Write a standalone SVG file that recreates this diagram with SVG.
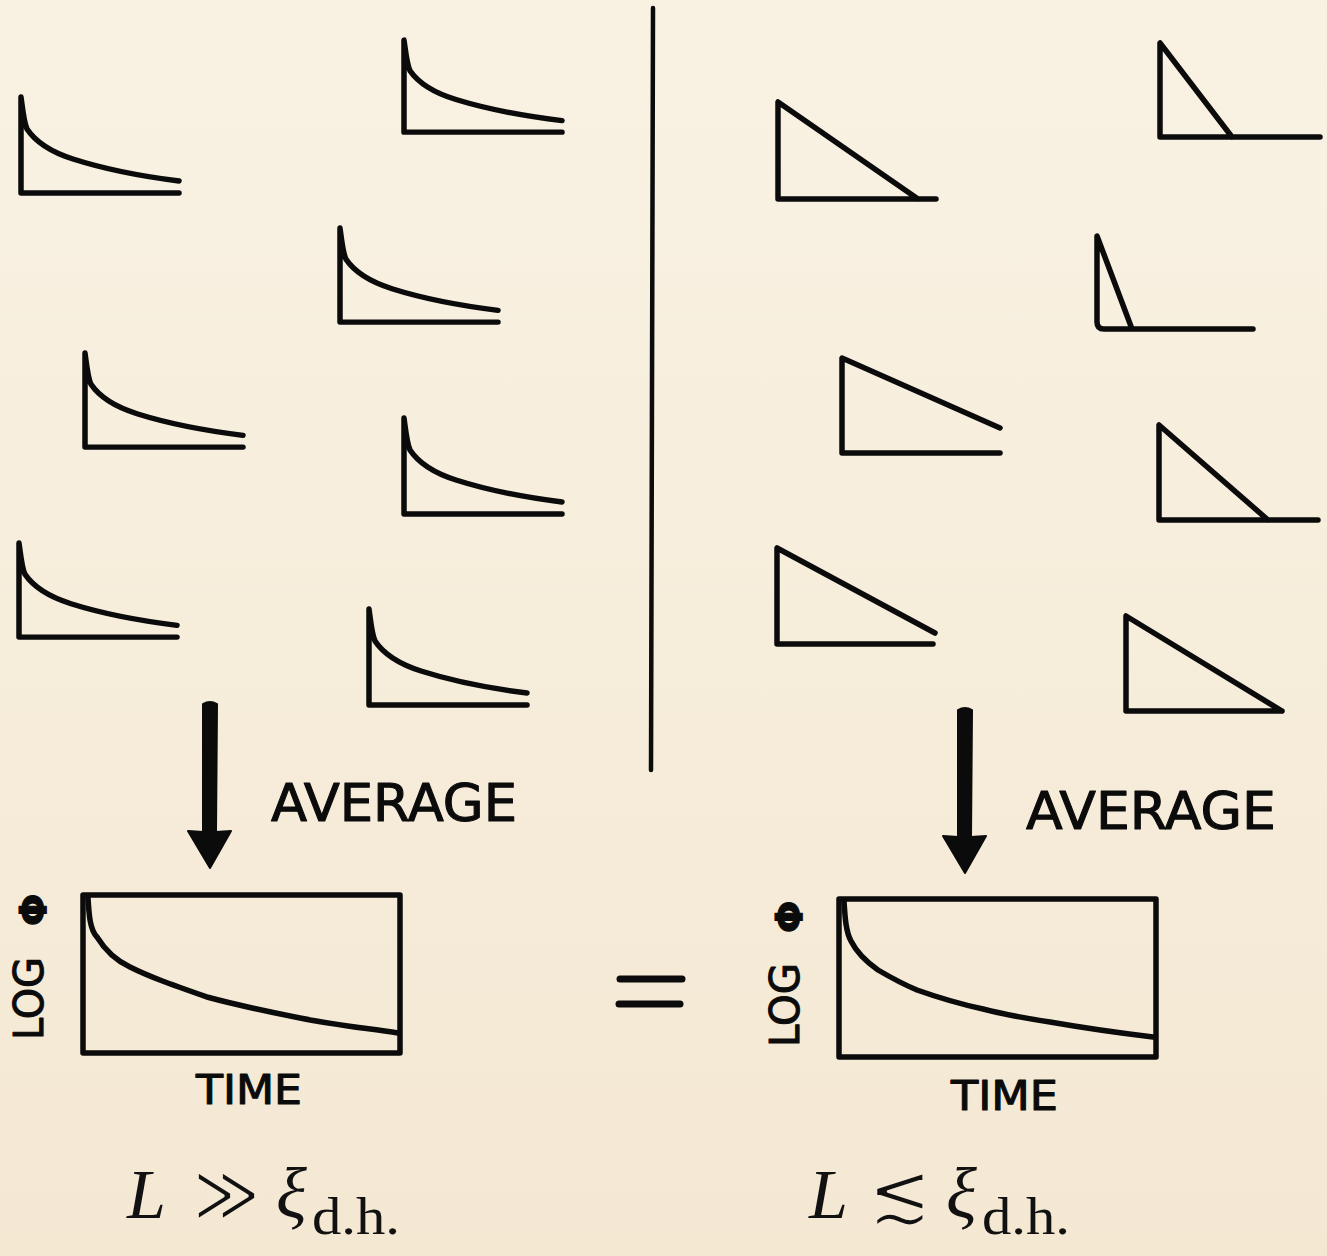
<svg xmlns="http://www.w3.org/2000/svg" xmlns:xlink="http://www.w3.org/1999/xlink" width="1327" height="1256" viewBox="0 0 1327 1256">
  <defs>
    <linearGradient id="bg" x1="0" y1="0" x2="0" y2="1">
      <stop offset="0" stop-color="#f9f2e3"/>
      <stop offset="1" stop-color="#f4e8d3"/>
    </linearGradient>
    <path id="decay" d="M 158,84 C 118,79 80,71 52,62 C 30,55 14,44 6,32 C 3,26 2,15 0,0 L 0,96 L 158,96"/>
  </defs>
  <style>
    .ink { fill: none; stroke: #0b0b0b; stroke-width: 5.5; stroke-linejoin: round; stroke-linecap: round; }
    .solid { fill: #0b0b0b; stroke: #0b0b0b; stroke-width: 2; stroke-linejoin: round; }
    .lab { font-family: "DejaVu Sans", "Liberation Sans", sans-serif; fill: #0b0b0b; stroke: #0b0b0b; stroke-width: 1.1; stroke-linejoin: round; }
    .math { font-family: "Liberation Serif", "DejaVu Serif", serif; fill: #111; }
    .sym { font-family: "DejaVu Sans", "Liberation Sans", sans-serif; fill: #111; stroke: #f4e9d5; stroke-width: 2.4; stroke-linejoin: round; }
  </style>
  <rect width="1327" height="1256" fill="url(#bg)"/>

  <!-- left column: individual decay curves -->
  <g id="left-curves" class="ink">
    <use id="lc1" xlink:href="#decay" href="#decay" transform="translate(21,97)"/>
    <use id="lc2" xlink:href="#decay" href="#decay" transform="translate(404,40) scale(1,0.96)"/>
    <use id="lc3" xlink:href="#decay" href="#decay" transform="translate(340,228) scale(1,0.98)"/>
    <use id="lc4" xlink:href="#decay" href="#decay" transform="translate(85,353) scale(1,0.98)"/>
    <use id="lc5" xlink:href="#decay" href="#decay" transform="translate(404,418)"/>
    <use id="lc6" xlink:href="#decay" href="#decay" transform="translate(19,543) scale(1,0.98)"/>
    <use id="lc7" xlink:href="#decay" href="#decay" transform="translate(369,609)"/>
  </g>

  <!-- right column: triangular pulses -->
  <g id="right-triangles" class="ink">
    <path id="rt1" d="M 918,199 L 778,102 L 778,199 L 936,199"/>
    <path id="rt2" d="M 1232,137 L 1160,43 L 1160,137 L 1320,137"/>
    <path id="rt3" d="M 1132,329 L 1097,236 L 1097,322 Q 1097,329 1104,329 L 1253,329"/>
    <path id="rt4" d="M 1000,428 L 842,358 L 842,453 L 1000,453"/>
    <path id="rt5" d="M 1268,520 L 1159,425 L 1159,520 L 1318,520"/>
    <path id="rt6" d="M 935,633 L 777,548 L 777,644 L 933,644"/>
    <path id="rt7" d="M 1282,711 L 1126,616 L 1126,711 L 1282,711"/>
  </g>

  <!-- divider -->
  <g id="divider">
    <line x1="653" y1="8" x2="651" y2="770" stroke="#0b0b0b" stroke-width="4.5" stroke-linecap="round"/>
  </g>

  <!-- connectors: average arrows -->
  <g id="connectors">
    <g id="arrow-left" class="solid">
      <path d="M 203,704 Q 210,700 217,704 L 216,832 L 231,831 L 210,868 L 188,831 L 203,832 Z"/>
    </g>
    <g id="arrow-right" class="solid">
      <path d="M 958,710 Q 965,706 972,710 L 971,837 L 986,836 L 965,873 L 943,836 L 958,837 Z"/>
    </g>
  </g>

  <g id="label-average-left">
    <text class="lab" x="271" y="821" font-size="52" textLength="246" lengthAdjust="spacingAndGlyphs">AVERAGE</text>
  </g>
  <g id="label-average-right">
    <text class="lab" x="1026" y="829" font-size="52" textLength="250" lengthAdjust="spacingAndGlyphs">AVERAGE</text>
  </g>

  <!-- averaged plots -->
  <g id="avg-left">
    <rect x="83" y="895" width="317" height="158" class="ink" stroke-width="6"/>
    <path class="ink" d="M 88,898 C 89,915 90,930 97,937 C 105,950 115,960 130,967 C 150,977 170,984 207,997 C 240,1006 270,1012 300,1018 C 335,1025 365,1028 398,1033"/>
    <text class="lab" font-size="41" transform="translate(43,1040) rotate(-90)" textLength="83" lengthAdjust="spacingAndGlyphs">LOG</text>
    <text class="lab" font-size="38" font-weight="bold" transform="translate(46,926) rotate(-90)">Φ</text>
    <text class="lab" x="196" y="1104" font-size="41" textLength="106" lengthAdjust="spacingAndGlyphs">TIME</text>
  </g>
  <g id="avg-right">
    <rect x="839" y="899" width="317" height="158" class="ink" stroke-width="6"/>
    <path class="ink" d="M 844,901 C 845,918 846,932 851,941 C 858,955 868,963 878,970 C 895,980 905,985 917,990 C 945,1000 960,1004 983,1009 C 1010,1016 1030,1019 1050,1022 C 1090,1029 1120,1033 1153,1037"/>
    <text class="lab" font-size="41" transform="translate(799,1047) rotate(-90)" textLength="84" lengthAdjust="spacingAndGlyphs">LOG</text>
    <text class="lab" font-size="38" font-weight="bold" transform="translate(802,933) rotate(-90)">Φ</text>
    <text class="lab" x="951" y="1110" font-size="41" textLength="107" lengthAdjust="spacingAndGlyphs">TIME</text>
  </g>

  <!-- equals sign -->
  <g id="equals">
    <line x1="620" y1="979" x2="682" y2="979" stroke="#0b0b0b" stroke-width="7" stroke-linecap="round"/>
    <line x1="619" y1="1004" x2="680" y2="1004" stroke="#0b0b0b" stroke-width="7" stroke-linecap="round"/>
  </g>

  <!-- conditions -->
  <g id="cond-left">
    <text class="math" x="127" y="1218" font-size="70" font-style="italic">L</text>
    <text class="sym" font-size="64" transform="translate(193,1222) scale(1,1.3)">≫</text>
    <text class="math" x="276" y="1218" font-size="72" font-style="italic">ξ</text>
    <text class="math" x="312" y="1234" font-size="52" textLength="88" lengthAdjust="spacingAndGlyphs">d.h.</text>
  </g>
  <g id="cond-right">
    <text class="math" x="809" y="1218" font-size="70" font-style="italic">L</text>
    <text class="sym" font-size="76" transform="translate(868,1222) scale(1,1.12)">≲</text>
    <text class="math" x="946" y="1218" font-size="72" font-style="italic">ξ</text>
    <text class="math" x="982" y="1234" font-size="52" textLength="88" lengthAdjust="spacingAndGlyphs">d.h.</text>
  </g>
</svg>
